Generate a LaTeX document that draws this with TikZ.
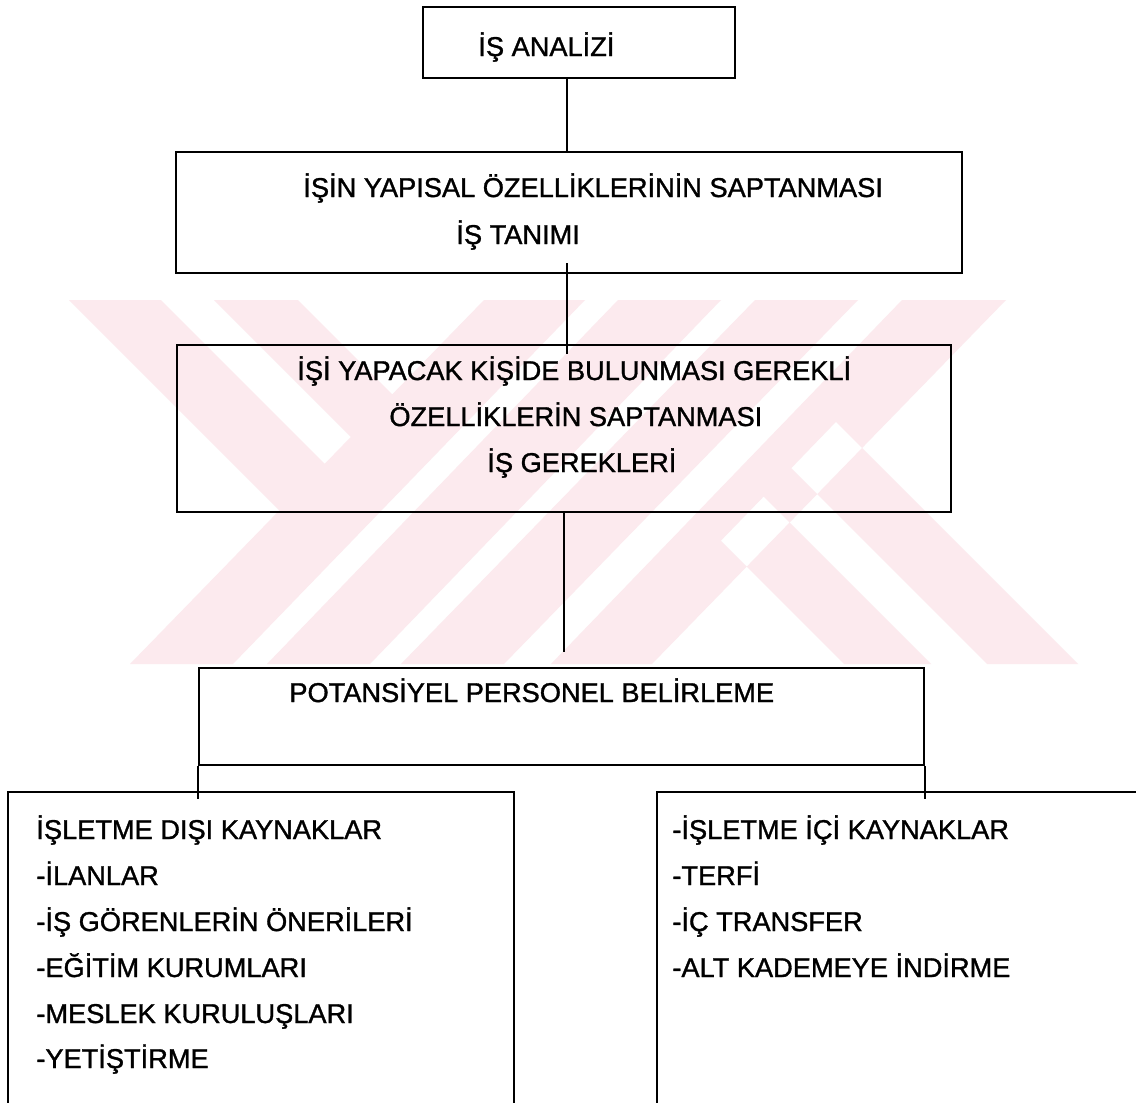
\documentclass[tikz,border=0pt]{standalone}
\usepackage{fontspec}
\setmainfont{Liberation Sans}[FakeBold=1.2]
\usetikzlibrary{fit}
\definecolor{wm}{RGB}{252,234,238}
\begin{document}
\begin{tikzpicture}[x=0.5pt,y=-0.5pt,
  box/.style={draw, line width=1.1pt, inner sep=0pt},
  conn/.style={line width=0.65pt},
  lbl/.style={anchor=base west, inner sep=0pt, font=\fontsize{13.6}{15}\selectfont}]
\clip (0,0) rectangle (1136,1103);
\fill[white] (0,0) rectangle (1136,1103);
% watermark
\fill[wm] (484,300) -- (585,300) -- (233,664) -- (130,664) -- cycle
          (618,300) -- (721,300) -- (370,664) -- (267,664) -- cycle
          (755,300) -- (858,300) -- (504,664) -- (401,664) -- cycle
          (902,300) -- (1006,300) -- (652,664) -- (551,664) -- cycle
          (69,300) -- (161,300) -- (350.6,489.6) -- (305.3,536.3) -- cycle
          (214,300) -- (298,300) -- (418,420) -- (376.7,462.7) -- cycle
          (844,664) -- (931,664) -- (763.6,496.6) -- (720.8,540.8) -- cycle
          (987,664) -- (1078,664) -- (835.9,421.9) -- (791.2,468.2) -- cycle;
% boxes
\node[box, fit={(423,7)(735,78)}] (b1) {};
\node[box, fit={(176,152)(962,273)}] (b2) {};
\node[box, fit={(177,345)(951,512)}] (b3) {};
\node[box, fit={(199,668)(924,765)}] (b4) {};
\node[box, fit={(8,792)(514,1115)}] (b5) {};
\node[box, fit={(657,792)(1150,1115)}] (b6) {};
% texts
\node[lbl] (t1) at (478,56) {İŞ ANALİZİ};
\node[lbl] (t2a) at (303,197) {İŞİN YAPISAL ÖZELLİKLERİNİN SAPTANMASI};
\node[lbl] (t2b) at (456,244) {İŞ TANIMI};
\node[lbl] (t3a) at (297,380) {İŞİ YAPACAK KİŞİDE BULUNMASI GEREKLİ};
\node[lbl] (t3b) at (389,426) {ÖZELLİKLERİN SAPTANMASI};
\node[lbl] (t3c) at (487,472) {İŞ GEREKLERİ};
\node[lbl] (t4) at (289,702) {POTANSİYEL PERSONEL BELİRLEME};
\node[lbl] (t5a) at (36,839) {İŞLETME DIŞI KAYNAKLAR};
\node[lbl] (t5b) at (36,885) {-İLANLAR};
\node[lbl] (t5c) at (36,931) {-İŞ GÖRENLERİN ÖNERİLERİ};
\node[lbl] (t5d) at (36,977) {-EĞİTİM KURUMLARI};
\node[lbl] (t5e) at (36,1023) {-MESLEK KURULUŞLARI};
\node[lbl] (t5f) at (36,1068) {-YETİŞTİRME};
\node[lbl] (t6a) at (672,839) {-İŞLETME İÇİ KAYNAKLAR};
\node[lbl] (t6b) at (672,885) {-TERFİ};
\node[lbl] (t6c) at (672,931) {-İÇ TRANSFER};
\node[lbl] (t6d) at (672,977) {-ALT KADEMEYE İNDİRME};
% connectors
\coordinate (cx) at (567,0);
\coordinate (cx3) at (564,0);
\coordinate (e3) at (564,652);
\draw[conn] (b1.south -| cx) -- (b2.north -| cx);
\draw[conn, shorten <=-5.5pt, shorten >=-5pt] (b2.south -| cx) -- (b3.north -| cx);
\draw[conn] (b3.south -| cx3) -- (e3);
\draw[conn, shorten >=-4pt] (b4.south west) -- (b4.south west |- b5.north);
\draw[conn, shorten >=-4pt] (b4.south east) -- (b4.south east |- b6.north);
\end{tikzpicture}
\end{document}
